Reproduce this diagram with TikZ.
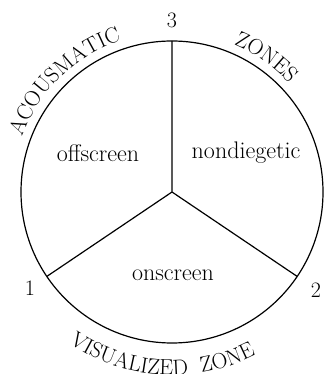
\documentclass[tikz,border=0pt]{standalone}
\usepackage{tikz}
\usetikzlibrary{decorations.text,positioning}
\newcommand\rimfont{\fontsize{22}{26}\selectfont}

\begin{document}
\begin{tikzpicture}[x=1pt,y=1pt,line width=1.2pt,
  zone/.style={font=\fontsize{24}{28}\selectfont},
  num/.style={font=\fontsize{22}{26}\selectfont,inner sep=0pt},
  rim/.style={decorate,decoration={text along path,text align=center,text={|\rimfont|#1}}}]
  \useasboundingbox (0,0) rectangle (324,374);
  % centre and the three points on the rim
  \coordinate (O) at (172,182);
  \path (O) ++(90:151pt) coordinate (P3)
        (O) ++(214:151pt) coordinate (P1)
        (O) ++(-34:151pt) coordinate (P2);

  \draw (O) circle[radius=151pt];
  \draw (O) -- (P3)
        (O) -- (P1)
        (O) -- (P2);

  % numbers at the rim
  \node[num, above=13pt of P3] (N3) {3};
  \node[num] (N1) at (30,86) {1};
  \node[num] (N2) at (316,84) {2};

  % the three zones
  \node[zone] (off) at (98,221) {offscreen};
  \node[zone] (nondieg) at (246,221) {nondiegetic};
  \node[zone] (on) at (173,99) {onscreen};

  % names along the circle
  \path[rim={ACOUSMATIC}] (O) ++(162:160pt) arc[start angle=162,end angle=106,radius=160pt];
  \path[rim={ZONES}] (O) ++(76:160pt) arc[start angle=76,end angle=34,radius=160pt];
  \path[rim={VISUALIZED{\ \ }ZONE}] (O) ++(220:183pt) arc[start angle=220,end angle=313,radius=183pt];
\end{tikzpicture}
\end{document}
